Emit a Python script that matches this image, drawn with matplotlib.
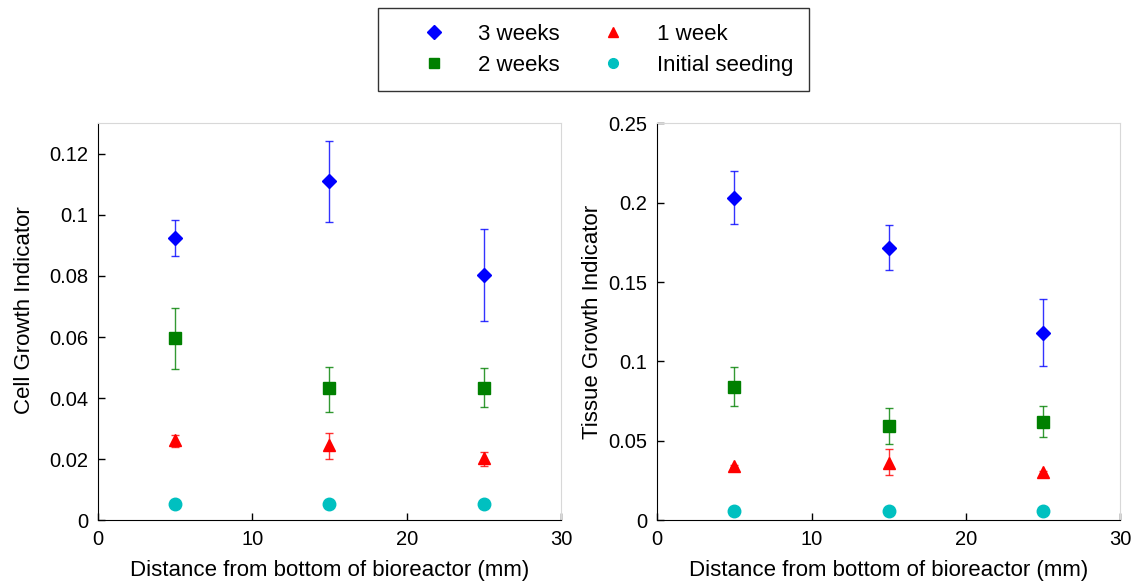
import matplotlib
matplotlib.use("Agg")
import matplotlib.pyplot as plt

plt.rcParams["font.family"] = ["Liberation Sans", "DejaVu Sans"]

# distance from bottom of bioreactor (mm)
distance = [5, 15, 25]

labels = ["3 weeks", "2 weeks", "1 week", "Initial seeding"]
markers = ["D", "s", "^", "o"]
colors = ["#0000ff", "#008000", "#ff0000", "#00c0c0"]
msizes = [7, 8, 8, 9]

# Cell growth indicator: means and (lower, upper) error ends
cell_3w = [0.0923, 0.1112, 0.0802]
cell_3w_lo = [0.0864, 0.0978, 0.0652]
cell_3w_hi = [0.0982, 0.1243, 0.0953]
cell_2w = [0.0597, 0.0433, 0.0433]
cell_2w_lo = [0.0496, 0.0354, 0.0370]
cell_2w_hi = [0.0696, 0.0503, 0.0499]
cell_1w = [0.0261, 0.0247, 0.0202]
cell_1w_lo = [0.0239, 0.0201, 0.0176]
cell_1w_hi = [0.0280, 0.0285, 0.0223]
cell_0 = [0.0054, 0.0054, 0.0054]

# Tissue growth indicator
tis_3w = [0.2033, 0.1718, 0.1180]
tis_3w_lo = [0.1866, 0.1577, 0.0972]
tis_3w_hi = [0.2203, 0.1857, 0.1395]
tis_2w = [0.0841, 0.0595, 0.0615]
tis_2w_lo = [0.0719, 0.0480, 0.0525]
tis_2w_hi = [0.0965, 0.0706, 0.0719]
tis_1w = [0.0343, 0.0360, 0.0301]
tis_1w_lo = [0.0336, 0.0287, 0.0291]
tis_1w_hi = [0.0350, 0.0445, 0.0311]
tis_0 = [0.0058, 0.0058, 0.0058]


def err(mean, lo, hi):
    return [[m - l for m, l in zip(mean, lo)], [h - m for m, h in zip(mean, hi)]]


def draw(ax, series, ylim, yticks, ytick_labels, ylabel, ylabel_xy):
    handles = []
    for (mean, lo, hi), mk, col, ms, lab in zip(series, markers, colors, msizes, labels):
        if lo is not None:
            ax.errorbar(distance, mean, yerr=err(mean, lo, hi), fmt="none",
                        ecolor=col, elinewidth=1.0, capsize=3, capthick=1.0, alpha=0.8)
        h, = ax.plot(distance, mean, linestyle="none", marker=mk, color=col,
                     markersize=ms, label=lab)
        handles.append(h)
    ax.set_xlim(0, 30)
    ax.set_ylim(*ylim)
    ax.set_xticks([0, 10, 20, 30])
    ax.set_yticks(yticks)
    ax.set_yticklabels(ytick_labels)
    ax.tick_params(direction="in", length=5, labelsize=14.5, width=1, pad=7)
    for s in ["top", "right"]:
        ax.spines[s].set_color("#d8d8d8")
    for s in ["left", "bottom"]:
        ax.spines[s].set_color("black")
    ax.set_xlabel("Distance from bottom of bioreactor (mm)", fontsize=16, labelpad=8)
    ax.set_ylabel(ylabel, fontsize=16)
    ax.yaxis.set_label_coords(*ylabel_xy)
    return handles


fig = plt.figure(figsize=(11.46, 5.85), dpi=100)
ax1 = fig.add_axes([0.0855, 0.111, 0.404, 0.678])
ax2 = fig.add_axes([0.5735, 0.111, 0.404, 0.678])

cell_series = [(cell_3w, cell_3w_lo, cell_3w_hi), (cell_2w, cell_2w_lo, cell_2w_hi),
               (cell_1w, cell_1w_lo, cell_1w_hi), (cell_0, None, None)]
tis_series = [(tis_3w, tis_3w_lo, tis_3w_hi), (tis_2w, tis_2w_lo, tis_2w_hi),
              (tis_1w, tis_1w_lo, tis_1w_hi), (tis_0, None, None)]

handles = draw(ax1, cell_series, (0, 0.13), [0, 0.02, 0.04, 0.06, 0.08, 0.1, 0.12],
               ["0", "0.02", "0.04", "0.06", "0.08", "0.1", "0.12"], "Cell Growth Indicator",
               (-0.137, 0.53))
draw(ax2, tis_series, (0, 0.25), [0, 0.05, 0.1, 0.15, 0.2, 0.25],
     ["0", "0.05", "0.1", "0.15", "0.2", "0.25"], "Tissue Growth Indicator",
     (-0.117, 0.5))

leg = fig.legend(handles, labels, ncol=2, loc="upper left", bbox_to_anchor=(0.3298, 0.9863),
                 fontsize=16, frameon=True, fancybox=False, edgecolor="black",
                 handlelength=3.6, handletextpad=0.2, columnspacing=0.6,
                 borderpad=0.7, labelspacing=0.45, borderaxespad=0)
leg.get_frame().set_linewidth(1.0)
for h in leg.legend_handles:
    h.set_markersize(7)

fig.savefig("out.png", dpi=100)
